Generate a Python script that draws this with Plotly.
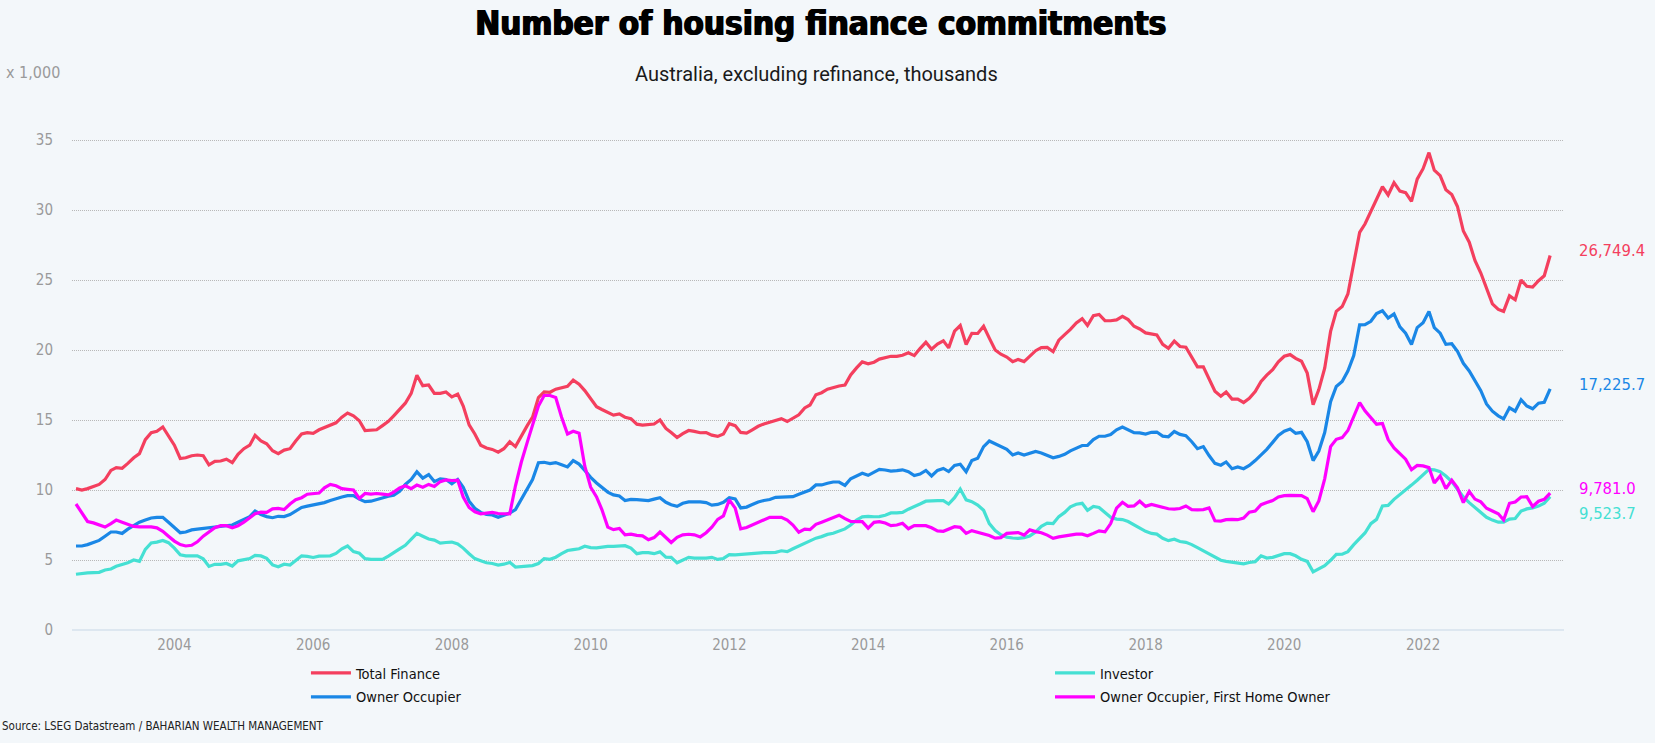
import pandas as pd
import plotly.graph_objects as go

dates = pd.date_range("2002-08-01", periods=256, freq="MS")

total_finance = [
    10.1, 10.0, 10.1, 10.25, 10.4, 10.75, 11.4, 11.6, 11.55, 11.9, 12.3, 12.6, 13.6, 14.1, 14.2, 14.5,
    13.9, 13.2, 12.25, 12.3, 12.45, 12.5, 12.45, 11.8, 12.05, 12.07, 12.2, 11.95, 12.55, 12.95, 13.2, 13.9,
    13.5, 13.3, 12.8, 12.6, 12.85, 12.95, 13.5, 14.0, 14.1, 14.05, 14.3, 14.45, 14.6, 14.8, 15.2, 15.5,
    15.3, 14.95, 14.25, 14.3,
    14.3, 14.6, 14.9, 15.3, 15.8, 16.2, 16.9, 18.2, 17.45, 17.5, 16.9, 16.9, 17.0, 16.65, 16.85, 16.0,
    14.65, 14.0, 13.2, 13.0, 12.9, 12.7, 12.95, 13.45, 13.1, 13.9, 14.6, 15.2, 16.6, 17.0, 16.98, 17.2,
    17.3, 17.4, 17.85, 17.55, 17.1, 16.5, 15.95, 15.75, 15.55, 15.35, 15.43, 15.2, 15.1, 14.7, 14.64, 14.7,
    14.71, 15.0, 14.4, 14.1,
    13.75, 14.02, 14.25, 14.19, 14.09, 14.1, 13.92, 13.83, 14.0, 14.73, 14.6, 14.11, 14.06, 14.3, 14.55, 14.72,
    14.84, 14.95, 15.1, 14.89, 15.15, 15.37, 15.86, 16.07, 16.8, 16.95, 17.2, 17.33, 17.43, 17.5, 18.22, 18.72,
    19.15, 19.02, 19.13, 19.35, 19.47, 19.55, 19.54, 19.62, 19.8, 19.6, 20.1, 20.55, 20.05, 20.43, 20.65, 20.15,
    21.35, 21.75, 20.4, 21.19,
    21.18, 21.7, 20.85, 20.0, 19.7, 19.5, 19.17, 19.33, 19.17, 19.55, 19.95, 20.17, 20.19, 19.88, 20.7, 21.1,
    21.47, 21.93, 22.24, 21.75, 22.45, 22.54, 22.1, 22.09, 22.15, 22.4, 22.17, 21.7, 21.5, 21.22, 21.17, 21.07,
    20.4, 20.12, 20.63, 20.25, 20.2, 19.45, 18.8, 18.8, 17.97, 17.05, 16.7, 17.0, 16.49, 16.49, 16.25, 16.55,
    17.03, 17.75, 18.2, 18.6,
    19.15, 19.55, 19.67, 19.4, 19.2, 18.35, 16.1, 17.17, 18.7, 21.33, 22.76, 23.1, 24.0, 26.2, 28.4, 29.0,
    29.9, 30.75, 31.66, 31.07, 31.95, 31.35, 31.24, 30.62, 32.2, 32.95, 34.1, 32.85, 32.45, 31.45, 31.1, 30.25,
    28.5, 27.7, 26.4, 25.5, 24.35, 23.3, 22.9, 22.76, 23.87, 23.59, 25.0, 24.55, 24.49, 24.95, 25.3, 26.7494,
]

owner_occupier = [
    6.0, 6.0, 6.1, 6.25, 6.4, 6.7, 7.0, 7.0, 6.9, 7.2, 7.45, 7.7, 7.85, 8.0, 8.05, 8.05,
    7.7, 7.35, 6.95, 7.0, 7.15, 7.2, 7.25, 7.3, 7.3, 7.4, 7.43, 7.5, 7.7, 7.9, 8.1, 8.5,
    8.25, 8.1, 8.02, 8.12, 8.1, 8.25, 8.5, 8.75, 8.85, 8.92, 9.0, 9.1, 9.25, 9.4, 9.5, 9.6,
    9.6, 9.35, 9.17, 9.2,
    9.32, 9.4, 9.55, 9.62, 9.9, 10.4, 10.75, 11.3, 10.85, 11.1, 10.6, 10.8, 10.75, 10.45, 10.75, 10.2,
    9.2, 8.7, 8.4, 8.25, 8.22, 8.05, 8.2, 8.35, 8.6, 9.35, 10.05, 10.75, 11.95, 11.98, 11.88, 11.96,
    11.8, 11.65, 12.1, 11.85, 11.4, 10.9, 10.5, 10.2, 9.85, 9.65, 9.57, 9.25, 9.33, 9.31, 9.26, 9.24,
    9.35, 9.45, 9.12, 8.95,
    8.83, 9.05, 9.15, 9.17, 9.15, 9.1, 8.92, 8.97, 9.12, 9.45, 9.37, 8.72, 8.78, 8.96, 9.14, 9.25,
    9.32, 9.48, 9.48, 9.48, 9.52, 9.7, 9.88, 10.0, 10.36, 10.36, 10.48, 10.57, 10.57, 10.33, 10.8, 10.97,
    11.19, 11.05, 11.26, 11.47, 11.43, 11.35, 11.38, 11.44, 11.31, 11.03, 11.14, 11.4, 11.0, 11.4, 11.54, 11.32,
    11.75, 11.84, 11.3, 12.1,
    12.27, 13.1, 13.5, 13.3, 13.05, 12.9, 12.5, 12.65, 12.5, 12.65, 12.75, 12.65, 12.45, 12.3, 12.4, 12.55,
    12.8, 13.0, 13.18, 13.18, 13.6, 13.84, 13.84, 13.96, 14.3, 14.5, 14.3, 14.1, 14.08, 14.0, 14.12, 14.14,
    13.85, 13.8, 14.18, 13.97, 13.88, 13.45, 12.95, 13.1, 12.46, 11.9, 11.77, 12.0, 11.52, 11.64, 11.52, 11.75,
    12.1, 12.5, 12.9, 13.4,
    13.9, 14.2, 14.35, 14.05, 14.12, 13.45, 12.1, 12.78, 14.1, 16.3, 17.4, 17.75, 18.5, 19.6, 21.8, 21.81,
    22.05, 22.6, 22.8, 22.28, 22.58, 21.65, 21.2, 20.4, 21.6, 21.95, 22.75, 21.6, 21.2, 20.4, 20.45, 19.9,
    19.05, 18.5, 17.8, 17.1, 16.15, 15.63, 15.3, 15.08, 15.87, 15.63, 16.45, 16.0, 15.8, 16.2, 16.27, 17.2257,
]

investor = [
    3.98, 4.05, 4.08, 4.1, 4.12, 4.29, 4.36, 4.55, 4.67, 4.8, 5.0, 4.9, 5.76, 6.22, 6.28, 6.4,
    6.24, 5.85, 5.37, 5.29, 5.29, 5.29, 5.08, 4.54, 4.69, 4.69, 4.75, 4.57, 4.94, 5.0, 5.1, 5.33,
    5.29, 5.12, 4.65, 4.52, 4.7, 4.64, 4.93, 5.3, 5.26, 5.18, 5.28, 5.29, 5.3, 5.47, 5.8, 6.0,
    5.6, 5.48, 5.1, 5.05,
    5.05, 5.05, 5.28, 5.5, 5.8, 6.05, 6.45, 6.9, 6.7, 6.5, 6.42, 6.2, 6.25, 6.28, 6.15, 5.85,
    5.45, 5.1, 4.95, 4.8, 4.75, 4.64, 4.7, 4.83, 4.5, 4.55, 4.6, 4.6, 4.75, 5.1, 5.05, 5.2,
    5.45, 5.68, 5.74, 5.8, 5.98, 5.88, 5.86, 5.93, 5.97, 5.98, 6.02, 6.02, 5.85, 5.45, 5.52, 5.52,
    5.45, 5.58, 5.2, 5.19,
    4.8, 4.97, 5.19, 5.14, 5.12, 5.13, 5.19, 5.04, 5.11, 5.38, 5.36, 5.4, 5.43, 5.43, 5.5, 5.53,
    5.52, 5.55, 5.66, 5.6, 5.8, 6.0, 6.2, 6.38, 6.56, 6.67, 6.83, 6.91, 7.05, 7.22, 7.5, 7.85,
    8.08, 8.12, 8.09, 8.1, 8.2, 8.36, 8.36, 8.4, 8.63, 8.8, 9.0, 9.2, 9.24, 9.24, 9.24, 9.0,
    9.45, 10.07, 9.3, 9.17,
    8.92, 8.55, 7.6, 7.1, 6.8, 6.63, 6.57, 6.54, 6.6, 6.72, 7.0, 7.4, 7.63, 7.6, 8.1, 8.4,
    8.8, 8.98, 9.05, 8.55, 8.82, 8.75, 8.4, 8.05, 7.92, 7.89, 7.75, 7.5, 7.25, 7.05, 6.9, 6.85,
    6.55, 6.38, 6.48, 6.32, 6.26, 6.1, 5.88, 5.65, 5.43, 5.2, 4.98, 4.9, 4.84, 4.78, 4.73, 4.82,
    4.88, 5.3, 5.14, 5.19,
    5.3, 5.45, 5.45, 5.3, 5.05, 4.9, 4.15, 4.35, 4.6, 4.98, 5.4, 5.42, 5.6, 6.1, 6.5, 6.93,
    7.6, 7.9, 8.86, 8.9, 9.33, 9.65, 10.0, 10.35, 10.7, 11.05, 11.47, 11.44, 11.3, 11.0, 10.6, 10.05,
    9.5, 9.1, 8.75, 8.4, 8.05, 7.85, 7.7, 7.7, 7.92, 7.96, 8.5, 8.65, 8.72, 8.85, 9.05, 9.5237,
]

first_home_owner = [
    9.0, 8.4, 7.75, 7.65, 7.5, 7.35, 7.6, 7.85, 7.7, 7.55, 7.4, 7.36, 7.37, 7.37, 7.3, 7.05,
    6.7, 6.35, 6.1, 6.0, 6.05, 6.3, 6.7, 7.0, 7.3, 7.45, 7.45, 7.3, 7.45, 7.7, 8.05, 8.3,
    8.42, 8.4, 8.65, 8.68, 8.6, 9.0, 9.3, 9.45, 9.7, 9.76, 9.78, 10.15, 10.4, 10.3, 10.1, 10.05,
    10.0, 9.4, 9.75, 9.7,
    9.75, 9.7, 9.65, 9.85, 10.15, 10.3, 10.1, 10.35, 10.2, 10.4, 10.25, 10.6, 10.72, 10.68, 10.7, 9.5,
    8.75, 8.45, 8.3, 8.35, 8.4, 8.32, 8.3, 8.3, 10.3, 12.0, 13.4, 14.6, 16.0, 16.75, 16.75, 16.6,
    15.2, 14.0, 14.2, 14.05, 11.7, 10.2, 9.5, 8.6, 7.35, 7.17, 7.25, 6.8, 6.85, 6.76, 6.72, 6.45,
    6.6, 7.0, 6.6, 6.25,
    6.62, 6.8, 6.84, 6.8, 6.65, 6.95, 7.35, 7.9, 8.15, 9.3, 8.7, 7.22, 7.32, 7.5, 7.68, 7.85,
    8.05, 8.05, 8.05, 7.85, 7.5, 6.98, 7.2, 7.17, 7.55, 7.7, 7.85, 8.0, 8.2, 7.95, 7.75, 7.74,
    7.74, 7.28, 7.69, 7.74, 7.64, 7.45, 7.5, 7.62, 7.23, 7.45, 7.45, 7.45, 7.3, 7.08, 7.05, 7.2,
    7.38, 7.33, 6.9, 7.1,
    6.98, 6.9, 6.75, 6.56, 6.6, 6.9, 6.92, 6.96, 6.78, 7.15, 7.03, 6.95, 6.78, 6.55, 6.65, 6.72,
    6.79, 6.85, 6.85, 6.73, 6.9, 7.08, 7.01, 7.6, 8.7, 9.12, 8.83, 8.86, 9.2, 8.83, 8.97, 8.86,
    8.76, 8.66, 8.64, 8.68, 8.86, 8.6, 8.58, 8.6, 8.72, 7.8, 7.78, 7.88, 7.9, 7.88, 8.0, 8.42,
    8.5, 8.95, 9.1, 9.25,
    9.5, 9.6, 9.62, 9.62, 9.6, 9.38, 8.45, 9.22, 10.8, 13.1, 13.62, 13.74, 14.25, 15.25, 16.25, 15.65,
    15.2, 14.7, 14.75, 13.6, 13.0, 12.6, 12.2, 11.45, 11.76, 11.72, 11.6, 10.5, 11.0, 10.1, 10.7, 10.15,
    9.1, 9.9, 9.35, 9.15, 8.7, 8.5, 8.3, 7.86, 9.05, 9.14, 9.5, 9.52, 8.82, 9.2, 9.33, 9.781,
]

series_names = ["Total Finance", "Owner Occupier", "Investor", "Owner Occupier, First Home Owner"]
series_values = [total_finance, owner_occupier, investor, first_home_owner]
series_colors = ["#F43F5E", "#1A87E6", "#45E0D3", "#FF00FF"]
series_legends = ["legend", "legend", "legend2", "legend2"]
label_shift = [5, 4, -17, 5]

y_ticks = [0, 5, 10, 15, 20, 25, 30, 35]
tick_years = [2004, 2006, 2008, 2010, 2012, 2014, 2016, 2018, 2020, 2022]

COND = "DejaVu Sans Condensed, sans-serif"
BG = "#F3F7FA"

fig = go.Figure()
for name, vals, col, lg in zip(series_names, series_values, series_colors, series_legends):
    fig.add_trace(go.Scatter(x=dates, y=vals, name=name, mode="lines", legendgroup=name,
                             line=dict(color=col, width=3.2), legend=lg))

for name, vals, col, sh in zip(series_names, series_values, series_colors, label_shift):
    fig.add_annotation(x=1.0087, xref="paper", xanchor="left",
                       y=vals[-1], yref="y", yanchor="middle", yshift=sh,
                       text=f"{vals[-1]*1000:,.1f}", showarrow=False,
                       font=dict(family=COND, size=16.5, color=col))

fig.add_annotation(text="Australia, excluding refinance, thousands", x=0.4993, xref="paper",
                   y=1.117, yref="paper", showarrow=False, xanchor="center", yanchor="middle",
                   font=dict(family="Roboto, Arial, sans-serif", size=20, color="#1a1a1a"))
fig.add_annotation(text="x 1,000", x=-0.0456, xref="paper", y=1.121, yref="paper",
                   showarrow=False, xanchor="left", yanchor="middle",
                   font=dict(family=COND, size=16, color="#9a9a9a"))
fig.add_annotation(text="Source: LSEG Datastream / BAHARIAN WEALTH MANAGEMENT", x=-0.0483, xref="paper",
                   y=-0.1766, yref="paper", showarrow=False, xanchor="left", yanchor="middle",
                   font=dict(family=COND, size=11.5, color="#222222"))

fig.update_layout(
    width=1655, height=743,
    margin=dict(l=72, r=91, t=133, b=106),
    paper_bgcolor=BG, plot_bgcolor=BG,
    title=dict(text="<b>Number of housing finance commitments</b>", x=0.496, xref="container",
               y=0.969, yref="container", xanchor="center", yanchor="middle",
               font=dict(family=COND, size=33, color="#000000",
                         shadow="0.8px 0 0 #000, -0.8px 0 0 #000")),
    xaxis=dict(range=["2002-07-11", "2024-01-13"], showgrid=False, zeroline=False, showline=False,
               tickvals=[f"{y}-01-01" for y in tick_years], ticktext=[str(y) for y in tick_years],
               ticks="", ticklabelstandoff=-3,
               tickfont=dict(family=COND, size=15, color="#9a9a9a")),
    yaxis=dict(range=[-0.5, 35.5], tickvals=y_ticks, showgrid=True, gridcolor="#b8b8b8",
               griddash="1px,1px", gridwidth=1, zeroline=True, zerolinecolor="#dde7f0",
               zerolinewidth=1.5, showline=False, ticks="", ticklabelstandoff=18,
               tickfont=dict(family=COND, size=15, color="#9a9a9a")),
    legend=dict(x=0.1568, y=-0.0397, xanchor="left", yanchor="top", bgcolor="rgba(0,0,0,0)",
                font=dict(family=COND, size=14.5, color="#111111"), itemwidth=40,
                tracegroupgap=2),
    legend2=dict(x=0.6555, y=-0.0397, xanchor="left", yanchor="top", bgcolor="rgba(0,0,0,0)",
                 font=dict(family=COND, size=14.5, color="#111111"), itemwidth=40,
                 tracegroupgap=2),
    showlegend=True,
    hovermode=False,
)

fig.write_html("out.html", config={"displayModeBar": False},
               post_script="document.body.style.margin='0px';document.body.style.background='#F3F7FA';")
